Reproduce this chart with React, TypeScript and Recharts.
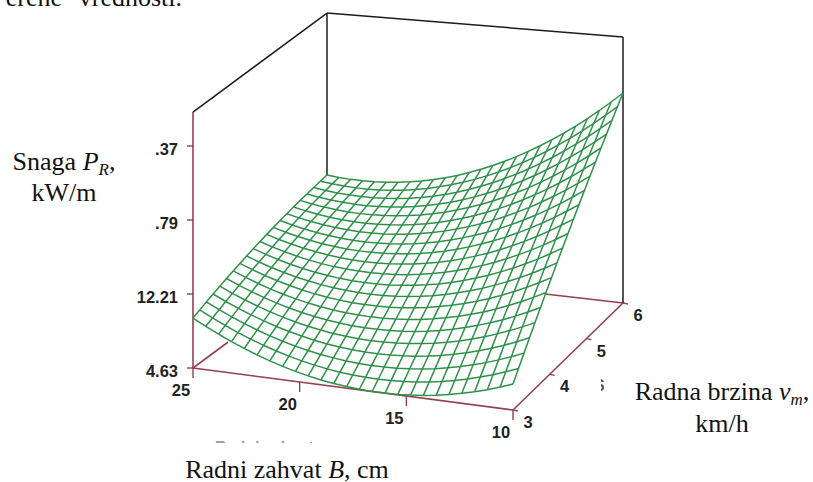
import { Scatter, ScatterChart, XAxis, YAxis } from "recharts";

const W = 813;
const H = 482;

// working width B, cm, one mesh column each
const WIDTHS = [25, 24.4, 23.8, 23.2, 22.6, 22, 21.4, 20.8, 20.2, 19.6, 19, 18.4, 17.8, 17.2, 16.6, 16, 15.4, 14.8, 14.2, 13.6, 13, 12.4, 11.8, 11.2, 10.6, 10];
// working speed v, km/h, one mesh row each
const SPEEDS = [3, 3.15, 3.3, 3.45, 3.6, 3.75, 3.9, 4.05, 4.2, 4.35, 4.5, 4.65, 4.8, 4.95, 5.1, 5.25, 5.4, 5.55, 5.7, 5.85, 6];

// power P, kW/m, rows follow SPEEDS and columns follow WIDTHS
const POWER = [
  [9.75, 9.07, 8.44, 7.85, 7.32, 6.83, 6.39, 6.0, 5.66, 5.37, 5.13, 4.93, 4.79, 4.69, 4.64, 4.64, 4.68, 4.78, 4.92, 5.12, 5.36, 5.65, 5.98, 6.37, 6.81, 7.29],
  [10.07, 9.42, 8.82, 8.26, 7.76, 7.3, 6.89, 6.53, 6.22, 5.95, 5.74, 5.57, 5.45, 5.38, 5.36, 5.39, 5.46, 5.59, 5.76, 5.98, 6.25, 6.57, 6.94, 7.35, 7.82, 8.33],
  [10.39, 9.76, 9.19, 8.66, 8.18, 7.75, 7.37, 7.04, 6.76, 6.52, 6.34, 6.2, 6.11, 6.07, 6.08, 6.13, 6.24, 6.39, 6.59, 6.84, 7.14, 7.49, 7.88, 8.33, 8.82, 9.36],
  [10.69, 10.09, 9.55, 9.05, 8.6, 8.2, 7.85, 7.55, 7.29, 7.08, 6.93, 6.82, 6.76, 6.74, 6.78, 6.86, 7.0, 7.18, 7.41, 7.69, 8.02, 8.39, 8.82, 9.29, 9.81, 10.38],
  [10.98, 10.41, 9.9, 9.43, 9.01, 8.64, 8.31, 8.04, 7.81, 7.63, 7.5, 7.42, 7.39, 7.41, 7.47, 7.59, 7.75, 7.96, 8.22, 8.52, 8.88, 9.29, 9.74, 10.24, 10.79, 11.39],
  [11.26, 10.72, 10.24, 9.8, 9.4, 9.06, 8.77, 8.52, 8.32, 8.17, 8.07, 8.02, 8.02, 8.06, 8.16, 8.3, 8.49, 8.73, 9.02, 9.35, 9.74, 10.17, 10.65, 11.18, 11.76, 12.39],
  [11.53, 11.03, 10.57, 10.15, 9.79, 9.48, 9.21, 8.99, 8.82, 8.7, 8.63, 8.61, 8.63, 8.71, 8.83, 9.0, 9.22, 9.49, 9.8, 10.17, 10.58, 11.04, 11.55, 12.11, 12.72, 13.38],
  [11.79, 11.32, 10.88, 10.5, 10.17, 9.88, 9.64, 9.46, 9.32, 9.22, 9.18, 9.19, 9.24, 9.34, 9.49, 9.69, 9.94, 10.24, 10.58, 10.97, 11.42, 11.91, 12.45, 13.03, 13.67, 14.35],
  [12.05, 11.59, 11.19, 10.84, 10.53, 10.28, 10.07, 9.91, 9.8, 9.73, 9.72, 9.75, 9.83, 9.97, 10.15, 10.37, 10.65, 10.98, 11.35, 11.77, 12.24, 12.76, 13.33, 13.94, 14.61, 15.32],
  [12.29, 11.86, 11.49, 11.17, 10.89, 10.66, 10.48, 10.35, 10.27, 10.23, 10.25, 10.31, 10.42, 10.58, 10.79, 11.04, 11.35, 11.7, 12.11, 12.56, 13.06, 13.6, 14.2, 14.84, 15.54, 16.28],
  [12.52, 12.12, 11.78, 11.48, 11.23, 11.03, 10.88, 10.78, 10.73, 10.72, 10.76, 10.85, 10.99, 11.18, 11.42, 11.71, 12.04, 12.42, 12.85, 13.33, 13.86, 14.44, 15.06, 15.73, 16.46, 17.23],
  [12.74, 12.37, 12.06, 11.79, 11.57, 11.4, 11.28, 11.2, 11.18, 11.2, 11.27, 11.39, 11.56, 11.78, 12.04, 12.36, 12.72, 13.13, 13.59, 14.1, 14.65, 15.26, 15.91, 16.61, 17.37, 18.16],
  [12.95, 12.61, 12.32, 12.08, 11.89, 11.75, 11.66, 11.61, 11.62, 11.67, 11.77, 11.92, 12.11, 12.36, 12.65, 13.0, 13.39, 13.83, 14.32, 14.85, 15.44, 16.07, 16.75, 17.48, 18.26, 19.09],
  [13.15, 12.84, 12.58, 12.37, 12.21, 12.09, 12.03, 12.01, 12.04, 12.12, 12.25, 12.43, 12.66, 12.93, 13.25, 13.63, 14.05, 14.51, 15.03, 15.6, 16.21, 16.87, 17.58, 18.34, 19.15, 20.01],
  [13.34, 13.06, 12.83, 12.65, 12.51, 12.43, 12.39, 12.4, 12.46, 12.57, 12.73, 12.94, 13.19, 13.49, 13.85, 14.25, 14.69, 15.19, 15.74, 16.33, 16.97, 17.67, 18.41, 19.19, 20.03, 20.92],
  [13.52, 13.27, 13.06, 12.91, 12.81, 12.75, 12.74, 12.78, 12.87, 13.01, 13.2, 13.43, 13.71, 14.05, 14.43, 14.86, 15.33, 15.86, 16.43, 17.06, 17.73, 18.45, 19.22, 20.03, 20.9, 21.81],
  [13.69, 13.46, 13.29, 13.17, 13.09, 13.06, 13.08, 13.15, 13.27, 13.44, 13.65, 13.92, 14.23, 14.59, 15.0, 15.45, 15.96, 16.52, 17.12, 17.77, 18.47, 19.22, 20.02, 20.86, 21.76, 22.7],
  [13.84, 13.65, 13.51, 13.41, 13.36, 13.36, 13.41, 13.51, 13.66, 13.85, 14.1, 14.39, 14.73, 15.12, 15.56, 16.04, 16.58, 17.16, 17.79, 18.47, 19.2, 19.98, 20.81, 21.68, 22.6, 23.57],
  [13.99, 13.83, 13.71, 13.65, 13.63, 13.66, 13.74, 13.86, 14.04, 14.26, 14.53, 14.85, 15.22, 15.64, 16.11, 16.62, 17.19, 17.8, 18.46, 19.17, 19.92, 20.73, 21.59, 22.49, 23.44, 24.44],
  [14.13, 14.0, 13.91, 13.87, 13.88, 13.94, 14.05, 14.2, 14.41, 14.66, 14.96, 15.31, 15.71, 16.15, 16.65, 17.19, 17.78, 18.42, 19.11, 19.85, 20.64, 21.47, 22.35, 23.29, 24.27, 25.3],
  [14.26, 14.15, 14.09, 14.08, 14.12, 14.21, 14.35, 14.53, 14.76, 15.04, 15.37, 15.75, 16.18, 16.65, 17.18, 17.75, 18.37, 19.04, 19.76, 20.52, 21.34, 22.2, 23.11, 24.07, 25.08, 26.14],
];

const P_TICKS = [4.63, 12.21, 19.79, 27.37];
const P_TICK_LABELS = ["4.63", "12.21", ".79", ".37"];
const B_TICKS = [25, 20, 15, 10];
const V_TICKS = [3, 4, 5, 6];

const P_MIN = 4.63;
const P_TOP_LEFT = 30.85;
const P_TOP_RIGHT = 31.88;

const RED = "#93404f";
const GREEN = "#2f9148";
const INK = "#1c1c1c";

// base corners of the box on the page, the picture is a slightly skewed perspective
const project = (b: number, v: number, p: number) => {
  const t = (25 - b) / 15;
  const s = (v - 3) / 3;
  const x = (193 * (1 - t) + 513 * t) * (1 - s) + (327 * (1 - t) + 623 * t) * s;
  const y = (368 * (1 - t) + 410 * t) * (1 - s) + (269 * (1 - t) + 303 * t) * s;
  return { x, y: y - ((p - P_MIN) * 74) / 7.58 };
};

const rowLines = SPEEDS.map((v, i) => WIDTHS.map((b, j) => project(b, v, POWER[i][j])));
const colLines = WIDTHS.map((b, j) => SPEEDS.map((v, i) => project(b, v, POWER[i][j])));

const redLines = [
  [project(25, 3, P_MIN), project(25, 3, P_TOP_LEFT)],
  [project(25, 3, P_MIN), project(10, 3, P_MIN)],
  [project(10, 3, P_MIN), project(10, 6, P_MIN)],
  [project(25, 3, P_MIN), project(25, 3.78, P_MIN)],
  [project(10, 6, P_MIN), project(13.95, 6, P_MIN)],
];
const blackLines = [
  [project(25, 3, P_TOP_LEFT), project(25, 6, P_TOP_LEFT)],
  [project(25, 6, P_TOP_LEFT), project(25, 6, 14.26)],
  [project(25, 6, P_TOP_LEFT), project(10, 6, P_TOP_RIGHT)],
  [project(10, 6, P_MIN), project(10, 6, P_TOP_RIGHT)],
];

const shifted = (o: { x: number; y: number }, dx: number, dy: number) => ({ x: o.x + dx, y: o.y + dy });

const tickLines = [
  ...P_TICKS.map((p) => [project(25, 3, p), shifted(project(25, 3, p), -6, 0)]),
  ...B_TICKS.map((b) => [project(b, 3, P_MIN), shifted(project(b, 3, P_MIN), 0, 10)]),
  ...V_TICKS.map((v) => [project(10, v, P_MIN), shifted(project(10, v, P_MIN), 5, 1)]),
];

const tickLabels = [
  ...P_TICKS.map((p, i) => ({ ...shifted(project(25, 3, p), -15, 9), label: P_TICK_LABELS[i], anchor: "end" })),
  ...B_TICKS.map((b) => ({ ...shifted(project(b, 3, P_MIN), -12, 28), label: String(b), anchor: "middle" })),
  ...V_TICKS.map((v) => ({ ...shifted(project(10, v, P_MIN), 15, 18), label: String(v), anchor: "middle" })),
];

const noDot = () => <g />;

const TickLabel = (props: any) => (
  <text
    x={props.cx}
    y={props.cy}
    textAnchor={props.payload.anchor}
    fontFamily="Liberation Sans"
    fontWeight="bold"
    fontSize={16.5}
    fill="#222"
  >
    {props.payload.label}
  </text>
);

const serif = { fontFamily: "Liberation Serif", fontSize: 26, fill: "#111" };

function Captions() {
  return (
    <svg width={W} height={H} style={{ position: "absolute", left: 0, top: 0 }}>
      <text x={62} y={6} textAnchor="end" {...serif}>
        erene
      </text>
      <text x={182} y={6} textAnchor="end" {...serif}>
        vrednosti.
      </text>
      <text x={64} y={170} textAnchor="middle" {...serif}>
        Snaga <tspan fontStyle="italic">P</tspan>
        <tspan fontStyle="italic" fontSize={17} dy={5}>R</tspan>
        <tspan dy={-5}>,</tspan>
      </text>
      <text x={64} y={201} textAnchor="middle" {...serif}>
        kW/m
      </text>
      <text x={722} y={400} textAnchor="middle" {...serif}>
        Radna brzina <tspan fontStyle="italic">v</tspan>
        <tspan fontStyle="italic" fontSize={17} dy={5}>m</tspan>
        <tspan dy={-5}>,</tspan>
      </text>
      <text x={722} y={432} textAnchor="middle" {...serif}>
        km/h
      </text>
      <text x={287} y={478} textAnchor="middle" {...serif}>
        Radni zahvat <tspan fontStyle="italic">B</tspan>, cm
      </text>
      {/* leftovers of the cropped axis titles in the scan */}
      <svg x={215} y={440} width={130} height={3}>
        <text x={0} y={13} fontFamily="Liberation Sans" fontWeight="bold" fontSize={16} fill="#999">
          Radni zahvat
        </text>
      </svg>
      <svg x={601} y={379} width={3} height={14}>
        <text x={-7} y={12} fontFamily="Liberation Sans" fontWeight="bold" fontSize={16} fill="#555">
          S
        </text>
      </svg>
    </svg>
  );
}

export default function App() {
  return (
    <div style={{ position: "absolute", left: 0, top: 0, width: W, height: H, overflow: "hidden", background: "#fff" }}>
      <ScatterChart width={W} height={H} margin={{ top: 0, right: 0, bottom: 0, left: 0 }}>
        <XAxis type="number" dataKey="x" domain={[0, W]} hide />
        <YAxis type="number" dataKey="y" domain={[0, H]} reversed hide />
        {redLines.map((d, i) => (
          <Scatter key={`red${i}`} data={d} line={{ stroke: RED, strokeWidth: 1.6 }} shape={noDot} isAnimationActive={false} />
        ))}
        {tickLines.map((d, i) => (
          <Scatter key={`tick${i}`} data={d} line={{ stroke: RED, strokeWidth: 1.4 }} shape={noDot} isAnimationActive={false} />
        ))}
        {blackLines.map((d, i) => (
          <Scatter key={`black${i}`} data={d} line={{ stroke: INK, strokeWidth: 1.5 }} shape={noDot} isAnimationActive={false} />
        ))}
        {rowLines.map((d, i) => (
          <Scatter key={`row${i}`} data={d} line={{ stroke: GREEN, strokeWidth: 1.5 }} shape={noDot} isAnimationActive={false} />
        ))}
        {colLines.map((d, i) => (
          <Scatter key={`col${i}`} data={d} line={{ stroke: GREEN, strokeWidth: 1.5 }} shape={noDot} isAnimationActive={false} />
        ))}
        <Scatter data={tickLabels} shape={TickLabel} isAnimationActive={false} />
      </ScatterChart>
      <Captions />
    </div>
  );
}
